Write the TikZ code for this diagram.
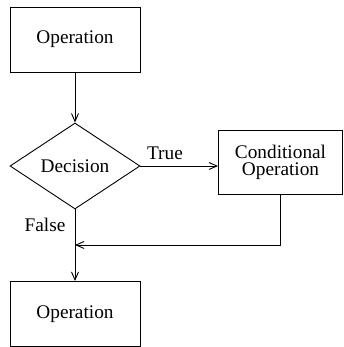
\documentclass[tikz,border=0pt]{standalone}
\usepackage{fontspec}
\setmainfont{Liberation Serif}
\usetikzlibrary{arrows.meta,shapes.geometric}
\begin{document}
\begin{tikzpicture}[x=1pt,y=-1pt,
  line width=0.9pt,
  every node/.style={font=\fontsize{19.3}{17}\selectfont, inner sep=0pt},
  opbox/.style={draw, rectangle, minimum width=130pt, minimum height=65pt},
  flow/.style={-{Straight Barb[length=8pt,width=7pt,line width=0.9pt]}},
  lbl/.style={}]
  \useasboundingbox (0,0) rectangle (343,347);
  % boxes and the decision diamond
  \node[opbox] (op1) at (75,39.5) {Operation};
  \node[draw, inner sep=0pt, minimum width=130pt, minimum height=86pt,
        shape=diamond, shape aspect=1.512] (dec) at (75,166) {Decision};
  \node[opbox, minimum width=124pt, minimum height=64pt, align=center] (cond) at (280.5,162) {Conditional\\Operation};
  \node[opbox] (op2) at (75,314) {Operation};
  % where the conditional branch rejoins the main flow
  \coordinate (join) at (75,245);
  \coordinate (corner) at (cond.south |- join);
  % connectors
  \draw[flow] (op1) -- (dec);
  \draw[flow] (dec.east) -- (cond.west |- dec.east);
  \draw[flow] (cond.south) -- (corner) -- (join);
  \draw[flow] (dec.south) -- (op2.north);
  % branch labels
  \node[lbl] (truelbl) at (165,153) {True};
  \node[lbl] (falselbl) at (45,225) {False};
\end{tikzpicture}
\end{document}
